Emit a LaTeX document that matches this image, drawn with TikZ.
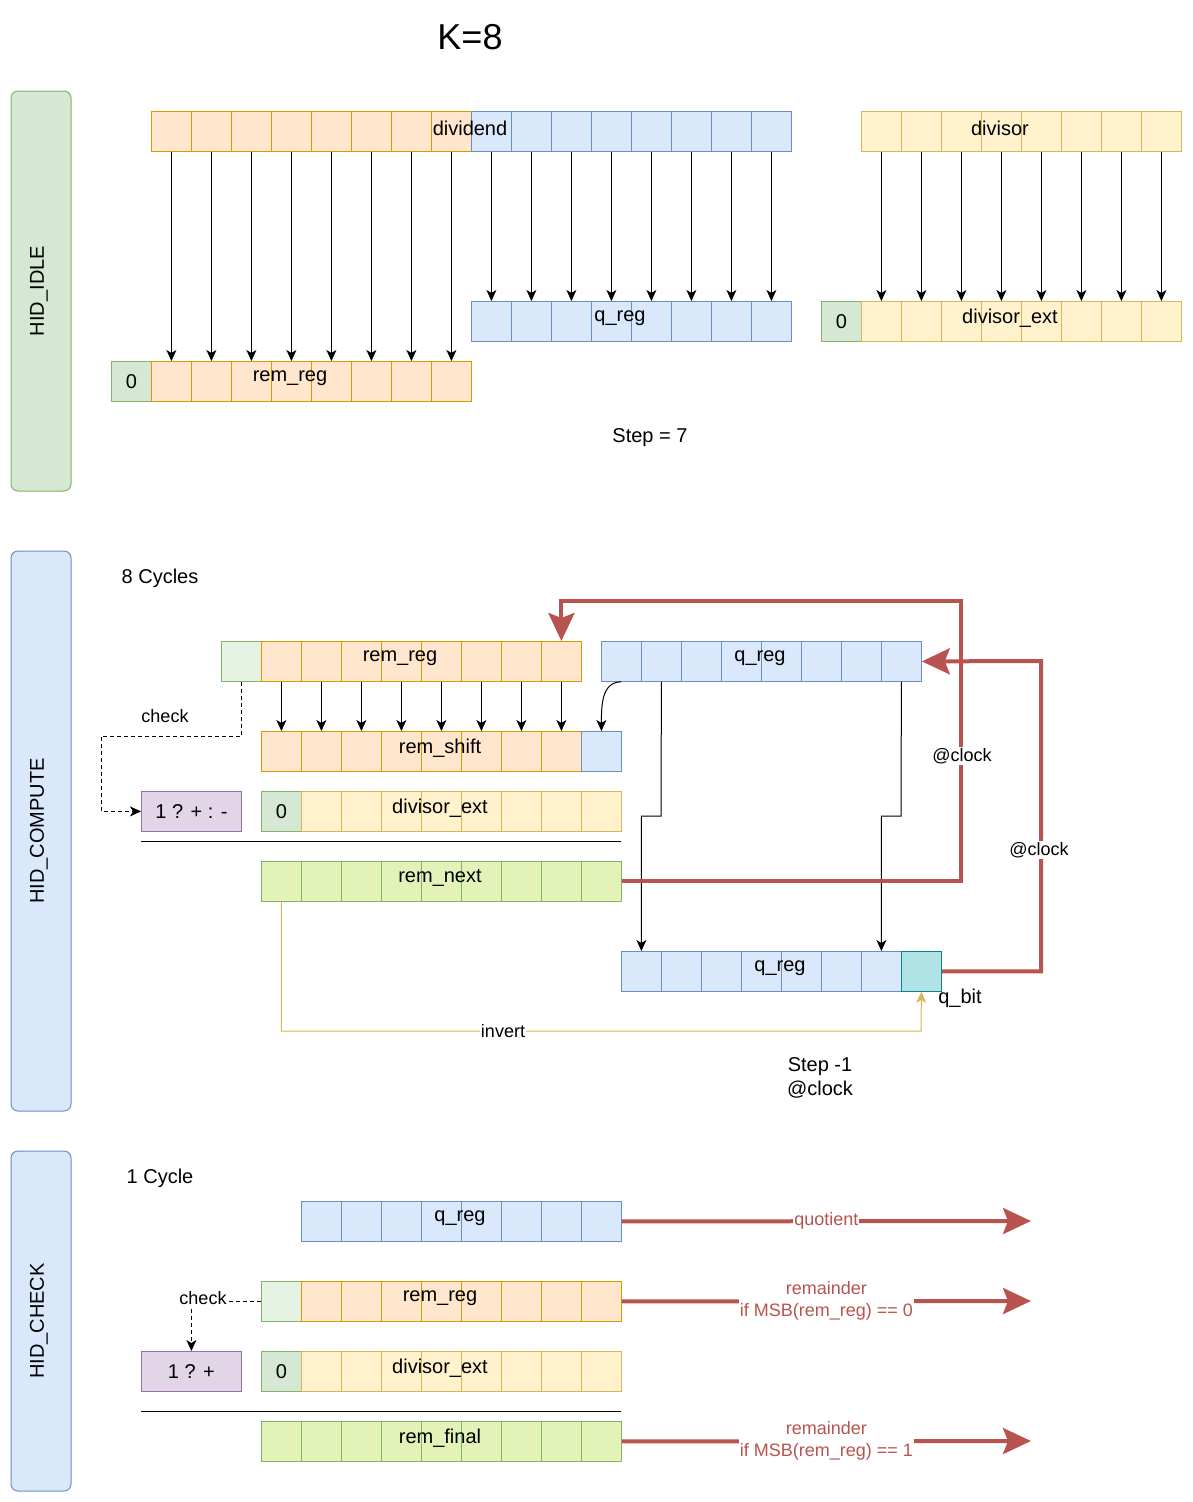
\documentclass[tikz,border=0pt]{standalone}
\usepackage{fontspec}
\setmainfont{Liberation Sans}
\usetikzlibrary{positioning,arrows.meta}

\definecolor{orgF}{HTML}{FFE6CC}\definecolor{orgD}{HTML}{D79B00}
\definecolor{bluF}{HTML}{DAE8FC}\definecolor{bluD}{HTML}{6C8EBF}
\definecolor{yelF}{HTML}{FFF2CC}\definecolor{yelD}{HTML}{D6B656}
\definecolor{grnF}{HTML}{D5E8D4}\definecolor{grnD}{HTML}{82B366}
\definecolor{palF}{HTML}{E6F2E4}
\definecolor{limF}{HTML}{E3F3B8}
\definecolor{purF}{HTML}{E1D5E7}\definecolor{purD}{HTML}{9673A6}
\definecolor{tealF}{HTML}{B0E3E6}\definecolor{tealD}{HTML}{0E8088}
\definecolor{redL}{HTML}{B85450}

\tikzset{
  cell/.style={draw, minimum width=40pt, minimum height=40pt, inner sep=0pt, anchor=north west, line width=0.8pt},
  org/.style={cell, fill=orgF, draw=orgD},
  blu/.style={cell, fill=bluF, draw=bluD},
  yel/.style={cell, fill=yelF, draw=yelD},
  grn/.style={cell, fill=grnF, draw=grnD},
  pal/.style={cell, fill=palF, draw=grnD},
  lim/.style={cell, fill=limF, draw=grnD},
  teal/.style={cell, fill=tealF, draw=tealD},
  sel/.style={cell, minimum width=100pt, fill=purF, draw=purD},
  lane/.style={draw, rounded corners=7pt, line width=1pt},
  txt/.style={font=\fontsize{20}{24}\selectfont, inner sep=1pt},
  small/.style={font=\fontsize{18}{22}\selectfont, inner sep=1pt},
  wire/.style={-{Stealth[length=11pt,width=10pt,inset=3pt]}, line width=1pt},
  chkwire/.style={wire, dash pattern=on 4pt off 3pt},
  bus/.style={redL, line width=4pt},
  busarrow/.style={bus, -{Stealth[length=28pt,width=26pt,inset=5pt]}},
}

% name, x, y, count, style
\newcommand\cellrow[5]{%
  \foreach \i in {1,...,#4}{\node[#5] (#1-\i) at ({#2+40*(\i-1)},#3) {};}}

\begin{document}
\begin{tikzpicture}[x=1pt,y=-1pt]
  \useasboundingbox (0,0) rectangle (1192,1502);

  % lanes
  \draw[lane, fill=grnF, draw=grnD] (11,91) rectangle (71,491);
  \node[txt, rotate=90] (laneI) at (39,291) {HID\_IDLE};
  \draw[lane, fill=bluF, draw=bluD] (11,551) rectangle (71,1111);
  \node[txt, rotate=90] (laneC) at (39,831) {HID\_COMPUTE};
  \draw[lane, fill=bluF, draw=bluD] (11,1151) rectangle (71,1491);
  \node[txt, rotate=90] (laneK) at (39,1321) {HID\_CHECK};

  \node[font=\fontsize{36}{40}\selectfont] (title) at (470,37) {K=8};

  % HID_IDLE
  \cellrow{dvo}{151}{111}{8}{org}
  \cellrow{dvb}{471}{111}{8}{blu}
  \node[txt] (dvl) at (470,128) {dividend};
  \cellrow{ds}{861}{111}{8}{yel}
  \node[txt] (dsl) at (1000,128) {divisor};
  \cellrow{iq}{471}{301}{8}{blu}
  \node[txt] (iql) at (620,318) {q\_reg};
  \node[grn] (dx0) at (821,301) {};
  \node[txt] at (dx0) {0};
  \cellrow{dx}{861}{301}{8}{yel}
  \node[txt] (dxl) at (1010,318) {divisor\_ext};
  \node[grn] (rr0) at (111,361) {};
  \node[txt] at (rr0) {0};
  \cellrow{rr}{151}{361}{8}{org}
  \node[txt] (rrl) at (290,378) {rem\_reg};
  \foreach \i in {1,...,8}{
    \draw[wire] (dvo-\i.south) -- (rr-\i.north);
    \draw[wire] (dvb-\i.south) -- (iq-\i.north);
    \draw[wire] (ds-\i.south) -- (dx-\i.north);
  }
  \node[txt] (step7) at (650,438) {Step = 7};

  % HID_COMPUTE
  \node[txt] (cyc8) at (160,578) {8 Cycles};
  \node[pal] (cg) at (221,641) {};
  \cellrow{cr}{261}{641}{8}{org}
  \node[txt] (crl) at (400,658) {rem\_reg};
  \cellrow{cq}{601}{641}{8}{blu}
  \node[txt] (cql) at (760,658) {q\_reg};
  \cellrow{cs}{261}{731}{8}{org}
  \node[blu] (csb) at (581,731) {};
  \node[txt] (csl) at (440,748) {rem\_shift};
  \foreach \i in {1,...,8}{\draw[wire] (cr-\i.south) -- (cs-\i.north);}
  \draw[wire] (cq-1.south) .. controls +(-20,0) and +(0,-25) .. (csb.north);
  \node[sel] (cp) at (141,791) {};
  \node[txt] at (cp) {1 ? + : -};
  \node[grn] (cd0) at (261,791) {};
  \node[txt] at (cd0) {0};
  \cellrow{cd}{301}{791}{8}{yel}
  \node[txt] (cdl) at (440,808) {divisor\_ext};
  \draw[chkwire] (cg.south) |- (101,736) |- (cp.west);
  \node[small] (chk1) at (165,716) {check};
  \draw[line width=1pt] (141,841) -- (621,841);
  \cellrow{rn}{261}{861}{9}{lim}
  \node[txt] (rnl) at (440,878) {rem\_next};
  \cellrow{cn}{621}{951}{7}{blu}
  \node[teal] (qb) at (901,951) {};
  \node[txt] (cnl) at (780,968) {q\_reg};
  \node[txt] (qbl) at (960,998) {q\_bit};
  \draw[wire] (cq-2.south) -- (661,816) -| (cn-1.north);
  \draw[wire] (cq-8.south) -- (901,816) -| (cn-7.north);
  \draw[busarrow] (rn-9.east) -| (961,601) -| (cr-8.north);
  \node[small, fill=white] (clk1) at (962,756) {@clock};
  \draw[busarrow] (qb.east) -| (1041,661) -- (cq-8.east);
  \node[small, fill=white] (clk2) at (1039,850) {@clock};
  \draw[yelD, line width=1pt, -{Stealth[length=11pt,width=10pt,inset=3pt]}]
    (rn-1.south) |- (921,1031) -- (qb.south);
  \node[small, fill=white] (inv) at (503,1031) {invert};
  \node[txt, align=center] (stepm) at (820,1078) {Step -1\\@clock};

  % HID_CHECK
  \node[txt] (cyc1) at (160,1178) {1 Cycle};
  \cellrow{kq}{301}{1201}{8}{blu}
  \node[txt] (kql) at (460,1218) {q\_reg};
  \coordinate (qout) at (1031,1221);
  \draw[busarrow] (kq-8.east) -- (qout) node[midway, small, fill=white] {quotient};
  \node[pal] (kg) at (261,1281) {};
  \cellrow{kr}{301}{1281}{8}{org}
  \node[txt] (krl) at (440,1298) {rem\_reg};
  \coordinate (rout0) at (1031,1301);
  \draw[busarrow] (kr-8.east) -- (rout0)
    node[midway, small, fill=white, align=center] {remainder\\if MSB(rem\_reg) == 0};
  \node[sel] (kp) at (141,1351) {};
  \node[txt] at (kp) {1 ? +};
  \draw[chkwire] (kg.west) -| (kp.north);
  \node[small, fill=white] (chk2) at (203,1298) {check};
  \node[grn] (kd0) at (261,1351) {};
  \node[txt] at (kd0) {0};
  \cellrow{kd}{301}{1351}{8}{yel}
  \node[txt] (kdl) at (440,1368) {divisor\_ext};
  \draw[line width=1pt] (141,1411) -- (621,1411);
  \cellrow{kf}{261}{1421}{9}{lim}
  \node[txt] (kfl) at (440,1438) {rem\_final};
  \coordinate (rout1) at (1031,1441);
  \draw[busarrow] (kf-9.east) -- (rout1)
    node[midway, small, fill=white, align=center] {remainder\\if MSB(rem\_reg) == 1};
\end{tikzpicture}
\end{document}
